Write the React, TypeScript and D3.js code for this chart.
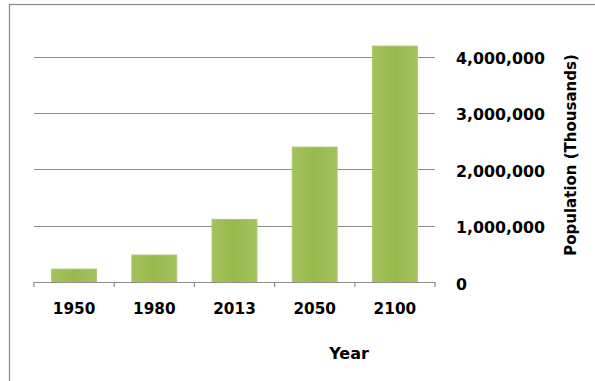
import React from "react";
import * as d3 from "d3";

const years = ["1950", "1980", "2013", "2050", "2100"];
const population = [229000, 478000, 1111000, 2393000, 4185000];
const yTicks = [0, 1000000, 2000000, 3000000, 4000000];

const W = 595;
const H = 381;
const FONT = "'DejaVu Sans', Verdana, sans-serif";

export default function App() {
  const x = d3
    .scaleBand<string>()
    .domain(years)
    .range([34, 435])
    .paddingInner(0.44)
    .paddingOuter(0.22);
  const y = d3.scaleLinear().domain([0, 4000000]).range([282, 56.5]);
  const step = x.step();
  const x0 = 34;
  const fmt = d3.format(",");
  const boundaries = d3.range(years.length + 1).map((i) => x0 + i * step);

  return (
    <svg
      width={W}
      height={H}
      style={{ position: "absolute", left: 0, top: 0, background: "#fff" }}
      fontFamily={FONT}
    >
      <defs>
        <linearGradient id="barGrad" x1="0" x2="1" y1="0" y2="0">
          <stop offset="0%" stopColor="#a3c25e" />
          <stop offset="50%" stopColor="#97b94c" />
          <stop offset="100%" stopColor="#a3c25e" />
        </linearGradient>
      </defs>
      <rect x={0} y={0} width={W} height={H} fill="#fff" />
      <rect x={9.5} y={4.5} width={W + 10} height={H + 10} fill="none" stroke="#8a8a8a" strokeWidth={1.2} />
      {yTicks.slice(1).map((t) => (
        <line key={t} x1={34} x2={435} y1={Math.round(y(t)) + 0.5} y2={Math.round(y(t)) + 0.5} stroke="#8c8c8c" strokeWidth={1.2} />
      ))}
      {years.map((yr, i) => (
        <rect
          key={yr}
          x={x(yr)}
          y={y(population[i])}
          width={x.bandwidth()}
          height={y(0) - y(population[i])}
          fill="url(#barGrad)"
          stroke="#abc872"
          strokeWidth={1}
        />
      ))}
      <line x1={34} x2={435} y1={282.5} y2={282.5} stroke="#8c8c8c" strokeWidth={1.2} />
      {boundaries.map((b, i) => (
        <line key={i} x1={b} x2={b} y1={282} y2={287} stroke="#8c8c8c" strokeWidth={1.2} />
      ))}
      {years.map((yr) => (
        <text
          key={yr}
          x={(x(yr) as number) + x.bandwidth() / 2}
          y={314}
          textAnchor="middle"
          fontSize={15.3}
          fontWeight="bold"
          fill="#000"
        >
          {yr}
        </text>
      ))}
      {yTicks.map((t) => (
        <text key={t} x={456} y={y(t) + 7.5} fontSize={15.8} fontWeight="bold" fill="#000">
          {fmt(t)}
        </text>
      ))}
      <text x={349} y={359} textAnchor="middle" fontSize={16} fontWeight="bold" fill="#000">
        Year
      </text>
      <text
        transform={`translate(576,155) rotate(-90)`}
        textAnchor="middle"
        fontSize={15}
        fontWeight="bold"
        fill="#000"
      >
        Population (Thousands)
      </text>
    </svg>
  );
}
